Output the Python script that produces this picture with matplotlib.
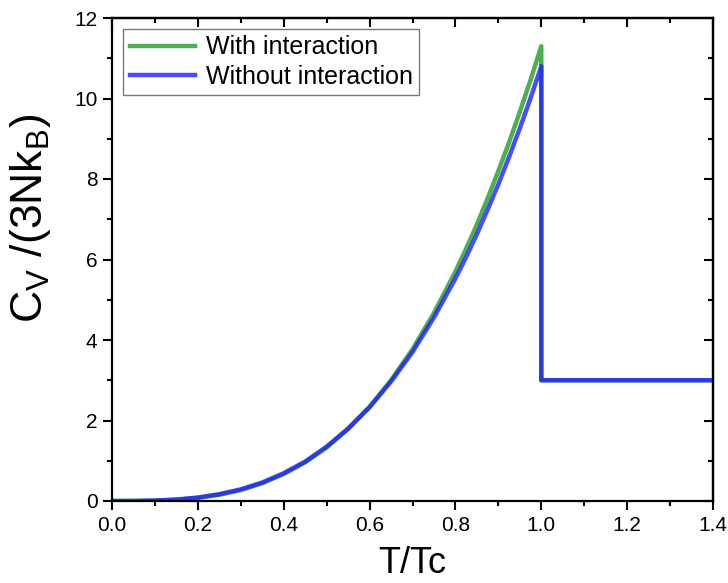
import matplotlib
matplotlib.use("Agg")
import matplotlib.pyplot as plt
from matplotlib.ticker import MultipleLocator

plt.rcParams['font.family'] = ['Liberation Sans', 'DejaVu Sans']

# Data
T = [0.0, 0.05, 0.1, 0.15, 0.2, 0.25, 0.3, 0.35, 0.4, 0.45, 0.5, 0.55,
     0.6, 0.65, 0.7, 0.75, 0.8, 0.825, 0.85, 0.875, 0.9, 0.925, 0.95,
     0.975, 1.0, 1.0, 1.4]
cv_without = [0.0, 0.001, 0.011, 0.036, 0.086, 0.17, 0.29, 0.46, 0.69, 0.98,
              1.35, 1.80, 2.33, 2.97, 3.70, 4.56, 5.53, 6.06, 6.63, 7.24,
              7.87, 8.55, 9.26, 10.01, 10.8, 3.0, 3.0]
cv_with = [0.0, 0.001, 0.009, 0.031, 0.076, 0.155, 0.27, 0.44, 0.67, 0.96,
           1.33, 1.79, 2.34, 3.00, 3.77, 4.67, 5.70, 6.27, 6.87, 7.52,
           8.20, 8.91, 9.67, 10.46, 11.3, 3.0, 3.0]
labels = ["With interaction", "Without interaction"]

fig = plt.figure(figsize=(7.28, 5.83), dpi=100)
ax = fig.add_axes([112/728, 1-501/583, (713-112)/728, (501-18)/583])

ax.plot(T, cv_with, color='#4caf50', lw=3.2, label=labels[0],
        solid_joinstyle='round')
ax.plot(T, cv_without, color=(0.12, 0.12, 1.0), alpha=0.8, lw=3.2,
        label=labels[1], solid_joinstyle='round')

ax.set_xlim(0, 1.4)
ax.set_ylim(0, 12)
ax.xaxis.set_major_locator(MultipleLocator(0.2))
ax.xaxis.set_minor_locator(MultipleLocator(0.1))
ax.yaxis.set_major_locator(MultipleLocator(2))
ax.yaxis.set_minor_locator(MultipleLocator(1))
ax.xaxis.set_major_formatter(matplotlib.ticker.FormatStrFormatter('%.1f'))

for s in ax.spines.values():
    s.set_linewidth(1.6)

ax.tick_params(which='major', direction='out', length=6.5, width=1.5,
               labelsize=15, pad=4)
ax.tick_params(which='minor', direction='out', length=3.5, width=1.5)

secx = ax.secondary_xaxis('top')
secx.xaxis.set_major_locator(MultipleLocator(0.2))
secx.xaxis.set_minor_locator(MultipleLocator(0.1))
secx.tick_params(which='major', direction='in', length=6.5, width=1.5, labeltop=False)
secx.tick_params(which='minor', direction='in', length=3.5, width=1.5)
secx.spines['top'].set_linewidth(1.6)

secy = ax.secondary_yaxis('right')
secy.yaxis.set_major_locator(MultipleLocator(2))
secy.yaxis.set_minor_locator(MultipleLocator(1))
secy.tick_params(which='major', direction='in', length=6.5, width=1.5, labelright=False)
secy.tick_params(which='minor', direction='in', length=3.5, width=1.5)
secy.spines['right'].set_linewidth(1.6)

ax.set_xlabel('T/Tc', fontsize=26, labelpad=8)
ax.set_ylabel(r'C$\mathregular{_V}$ /(3Nk$\mathregular{_B}$)', fontsize=32)
ax.yaxis.set_label_coords(-0.098, 0.585)

leg = ax.legend(loc='upper left', fontsize=18, frameon=True, fancybox=False,
                borderpad=0.25, handlelength=2.6, handletextpad=0.45,
                labelspacing=0.2, borderaxespad=0.45)
leg.get_frame().set_edgecolor('#555555')
leg.get_frame().set_linewidth(1.0)

fig.savefig('out.png', dpi=100)
